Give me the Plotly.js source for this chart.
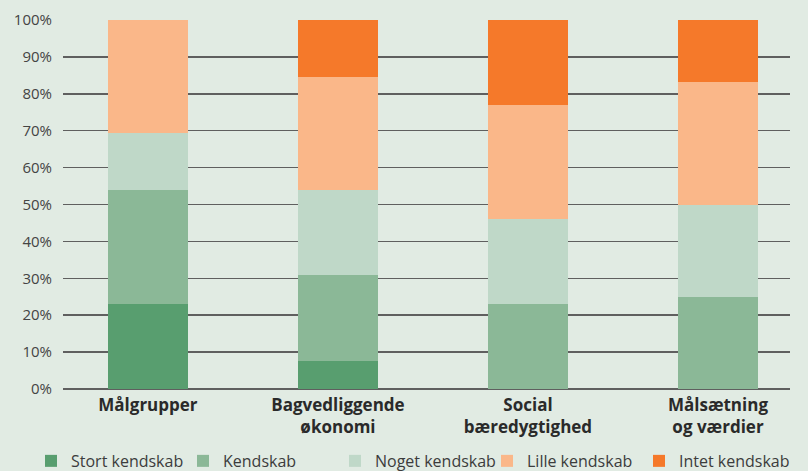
<!DOCTYPE html>
<html>
<head>
<meta charset="utf-8">
<script src="https://cdn.plot.ly/plotly-3.0.1.min.js"></script>
<style>
  html, body { margin: 0; padding: 0; background: #e1ebe3; }
  #chart { width: 808px; height: 471px; }
</style>
</head>
<body>
<div id="chart"></div>
<script>
// Categories (x axis)
const categories = ["Målgrupper", "Bagvedliggende<br>økonomi", "Social<br>bæredygtighed", "Målsætning<br>og værdier"];

// Series names (legend)
const seriesNames = ["Stort kendskab", "Kendskab", "Noget kendskab", "Lille kendskab", "Intet kendskab"];

// Series values (percent)
const stortKendskab = [23.1, 7.7, 0, 0];
const kendskab      = [30.8, 23.1, 23.1, 25.0];
const nogetKendskab = [15.4, 23.1, 23.1, 25.0];
const lilleKendskab = [30.7, 30.7, 30.8, 33.3];
const intetKendskab = [0, 15.4, 23.1, 16.7];

// Y tick values
const yTicks = [0, 10, 20, 30, 40, 50, 60, 70, 80, 90, 100];

const seriesValues = [stortKendskab, kendskab, nogetKendskab, lilleKendskab, intetKendskab];
const seriesColors = ["#589e6f", "#8bb897", "#bfd8c8", "#fab789", "#f5792a"];

// Legend entry text start positions (px from left), one legend box per series
const legendTextX = [71, 223, 375, 527, 679];
const legendIds = ["legend", "legend2", "legend3", "legend4", "legend5"];

const xIdx = categories.map((_, i) => i);

const traces = seriesValues.map((vals, i) => ({
  type: "bar",
  name: seriesNames[i],
  x: xIdx,
  y: vals,
  width: 0.42,
  legend: legendIds[i],
  marker: { color: seriesColors[i], line: { width: 0 } },
  hoverinfo: "name+y"
}));

const layout = {
  width: 808,
  height: 471,
  paper_bgcolor: "#e1ebe3",
  plot_bgcolor: "#e1ebe3",
  barmode: "stack",
  margin: { l: 63, r: 18, t: 20, b: 82, pad: 0, autoexpand: false },
  font: { family: "'Open Sans', sans-serif", color: "#3c3c3c", size: 15 },
  xaxis: {
    range: [-0.447, 3.379],
    tickmode: "array",
    tickvals: xIdx,
    ticktext: categories,
    showgrid: false,
    zeroline: false,
    showline: false,
    ticks: "",
    ticklabelstandoff: 4,
    automargin: false,
    tickfont: { family: "'Open Sans', sans-serif", size: 17, color: "#2a2a2a", weight: "bold" },
    fixedrange: true
  },
  yaxis: {
    range: [0, 100],
    tickmode: "array",
    tickvals: yTicks,
    ticktext: yTicks.map(v => v + "%"),
    showgrid: true,
    gridcolor: "#5f5f5f",
    gridwidth: 1.5,
    zeroline: true,
    zerolinecolor: "#5f5f5f",
    zerolinewidth: 1.5,
    showline: false,
    ticks: "outside",
    ticklen: 7,
    tickcolor: "rgba(0,0,0,0)",
    automargin: false,
    tickfont: { family: "'Open Sans', sans-serif", size: 15, color: "#444444" },
    fixedrange: true
  },
  showlegend: true
};

legendIds.forEach((id, i) => {
  layout[id] = {
    orientation: "h",
    x: (legendTextX[i] - 40) / 808,
    xref: "container",
    xanchor: "left",
    y: -0.195,
    yanchor: "middle",
    bgcolor: "rgba(0,0,0,0)",
    font: { family: "'Open Sans', sans-serif", size: 16, color: "#3c3c3c" }
  };
});

Plotly.newPlot("chart", traces, layout, { displayModeBar: false, staticPlot: true });
</script>
</body>
</html>
